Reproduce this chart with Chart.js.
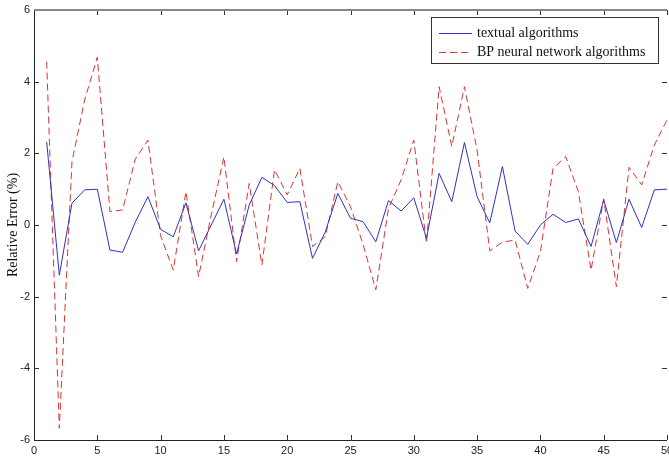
<!DOCTYPE html>
<html>
<head>
<meta charset="utf-8">
<script src="https://cdn.jsdelivr.net/npm/chart.js@4.4.1/dist/chart.umd.min.js"></script>
<style>
  html, body { margin: 0; padding: 0; background: #fff; }
  #wrap { width: 669px; height: 458px; }
</style>
</head>
<body>
<div id="wrap"><canvas id="errChart" width="669" height="458"></canvas></div>
<script>
// sample index 1..50
const sampleIdx = [];
for (let i = 1; i <= 50; i++) sampleIdx.push(i);

const textualErr = [
  2.32, -1.40, 0.61, 0.98, 1.00, -0.70, -0.76, 0.08, 0.79, -0.12,
  -0.33, 0.62, -0.72, 0.00, 0.72, -0.81, 0.56, 1.33, 1.10, 0.63,
  0.65, -0.93, -0.20, 0.88, 0.19, 0.09, -0.47, 0.68, 0.39, 0.76,
  -0.37, 1.44, 0.65, 2.30, 0.79, 0.06, 1.63, -0.17, -0.54, 0.00,
  0.30, 0.07, 0.17, -0.60, 0.70, -0.49, 0.72, -0.07, 0.98, 1.00
];
const bpErr = [
  4.56, -5.67, 1.77, 3.49, 4.68, 0.37, 0.42, 1.84, 2.37, -0.30,
  -1.26, 0.93, -1.44, 0.28, 1.90, -1.02, 1.16, -1.12, 1.54, 0.84,
  1.58, -0.60, -0.33, 1.21, 0.51, -0.55, -1.81, 0.46, 1.26, 2.37,
  -0.51, 3.86, 2.19, 3.86, 2.09, -0.72, -0.48, -0.42, -1.77, -0.74,
  1.58, 1.91, 0.93, -1.26, 0.73, -1.72, 1.61, 1.12, 2.23, 2.93
];
const seriesNames = ["textual algorithms", "BP neural network algorithms"];
const xTicks = [0, 5, 10, 15, 20, 25, 30, 35, 40, 45, 50];
const yTicks = [-6, -4, -2, 0, 2, 4, 6];

const toPts = (vals) => vals.map((v, i) => ({ x: sampleIdx[i], y: v }));

// box, inward ticks and boxed legend, matlab style
const frameAndLegend = {
  id: "frameAndLegend",
  afterDatasetsDraw(chart) {
    const { ctx, chartArea: a, scales } = chart;
    const xs = scales.x, ys = scales.y;
    ctx.save();
    ctx.lineWidth = 1;
    ctx.strokeStyle = "#333";
    xTicks.forEach((t) => {
      const px = Math.round(xs.getPixelForValue(t)) + 0.5;
      ctx.beginPath();
      ctx.moveTo(px, a.bottom); ctx.lineTo(px, a.bottom - 5);
      ctx.moveTo(px, a.top); ctx.lineTo(px, a.top + 5);
      ctx.stroke();
    });
    yTicks.forEach((t) => {
      const py = Math.round(ys.getPixelForValue(t)) + 0.5;
      ctx.beginPath();
      ctx.moveTo(a.left, py); ctx.lineTo(a.left + 5, py);
      ctx.moveTo(a.right, py); ctx.lineTo(a.right - 5, py);
      ctx.stroke();
    });
    ctx.strokeStyle = "#222";
    ctx.beginPath();
    ctx.moveTo(a.left + 0.5, a.top); ctx.lineTo(a.left + 0.5, a.bottom + 0.5);
    ctx.lineTo(a.right, a.bottom + 0.5);
    ctx.stroke();
    ctx.strokeStyle = "#888";
    ctx.lineWidth = 2;
    ctx.beginPath();
    ctx.moveTo(a.left, a.top); ctx.lineTo(a.right, a.top);
    ctx.stroke();

    // legend
    const lx = 431, ly = 17, lw = 227, lh = 46;
    ctx.fillStyle = "#fff";
    ctx.fillRect(lx, ly, lw, lh);
    ctx.lineWidth = 1;
    ctx.strokeStyle = "#333";
    ctx.strokeRect(lx + 0.5, ly + 0.5, lw, lh);
    ctx.font = "14px 'Liberation Serif', 'Times New Roman', serif";
    ctx.textBaseline = "middle";
    chart.data.datasets.forEach((ds, i) => {
      const ry = i === 0 ? 33.5 : 52.5;
      ctx.strokeStyle = ds.borderColor;
      ctx.setLineDash(ds.borderDash || []);
      ctx.beginPath();
      ctx.moveTo(439, ry); ctx.lineTo(472, ry);
      ctx.stroke();
      ctx.setLineDash([]);
      ctx.fillStyle = "#111";
      ctx.fillText(ds.label, 477, ry);
    });
    ctx.restore();
  }
};

new Chart(document.getElementById("errChart"), {
  type: "line",
  data: {
    datasets: [
      { label: seriesNames[0], data: toPts(textualErr), borderColor: "#3030c4", borderWidth: 1, pointRadius: 0, tension: 0 },
      { label: seriesNames[1], data: toPts(bpErr), borderColor: "#d83434", borderWidth: 1, borderDash: [7, 4], pointRadius: 0, tension: 0 }
    ]
  },
  options: {
    responsive: false,
    animation: false,
    layout: { padding: { top: 10, right: 2, left: 0, bottom: 0 } },
    plugins: { legend: { display: false }, tooltip: { enabled: false } },
    scales: {
      x: {
        type: "linear", min: 0, max: 50,
        grid: { display: false, drawTicks: false },
        border: { display: false },
        afterBuildTicks: (s) => { s.ticks = xTicks.map((v) => ({ value: v })); },
        afterFit: (s) => { s.height = 18; s.paddingLeft = 0; s.paddingRight = 0; },
        ticks: { color: "#222", padding: 4, maxRotation: 0, autoSkip: false, font: { family: "'Liberation Sans', Arial, sans-serif", size: 11 } }
      },
      y: {
        min: -6, max: 6,
        grid: { display: false, drawTicks: false },
        border: { display: false },
        afterBuildTicks: (s) => { s.ticks = yTicks.map((v) => ({ value: v })); },
        afterFit: (s) => { s.width = 34; s.paddingTop = 0; s.paddingBottom = 0; },
        title: { display: true, text: "Relative Error (%)", color: "#111", padding: { top: 5, bottom: 0 }, font: { family: "'Liberation Serif', 'Times New Roman', serif", size: 14 } },
        ticks: { color: "#222", padding: 4, font: { family: "'Liberation Sans', Arial, sans-serif", size: 11 } }
      }
    }
  },
  plugins: [frameAndLegend]
});
</script>
</body>
</html>
